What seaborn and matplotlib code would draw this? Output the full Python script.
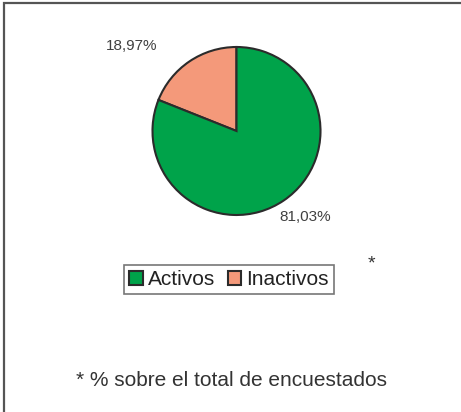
import matplotlib
matplotlib.use("Agg")
import matplotlib.pyplot as plt
import seaborn as sns
from matplotlib.patches import Rectangle

# datos (orden de dibujo: Inactivos primero para que empiece arriba)
categorias = ["Inactivos", "Activos"]
porcentajes = [18.97, 81.03]
etiquetas = ["18,97%", "81,03%"]
colores = ["#F4997A", "#00A34A"]

sns.set_theme(style="white")
plt.rcParams["font.family"] = ["Liberation Sans", "DejaVu Sans"]

W, H = 461, 412
fig = plt.figure(figsize=(W / 100, H / 100), dpi=100)

# marco exterior (solo se ven borde superior e izquierdo)
fig.add_artist(Rectangle((4 / W, -0.05), 1.1, 1 - 3 / H + 0.05,
                         transform=fig.transFigure, fill=False,
                         edgecolor="#555555", linewidth=1.6))

# ejes del pastel: centro (236.5, 131) px, radio 84 px
R = 84
cx, cy = 236.5, 131
ax = fig.add_axes([(cx - 150) / W, (H - cy - 120) / H, 300 / W, 240 / H])

wedges, _ = ax.pie(porcentajes, colors=colores, startangle=90,
                   counterclock=True, radius=1,
                   wedgeprops=dict(edgecolor="#2b2b2b", linewidth=1.5))
ax.set_aspect("auto")
ax.set_xlim(-150 / R, 150 / R)
ax.set_ylim(-120 / R, 120 / R)
ax.axis("off")

# etiquetas de porcentaje
pos_etq = [(-104.5 / R, 85 / R), (68.5 / R, -86 / R)]
for (x, y), txt in zip(pos_etq, etiquetas):
    ax.text(x, y, txt, ha="center", va="center", fontsize=11, color="#404040")

# leyenda en orden Activos, Inactivos
leg = fig.legend([wedges[1], wedges[0]], [categorias[1], categorias[0]],
                 loc="center", bbox_to_anchor=(229 / W, 1 - 279.5 / H),
                 ncol=2, fontsize=15, frameon=True, fancybox=False,
                 edgecolor="#555555", handlelength=0.65, handleheight=0.65,
                 handletextpad=0.25, columnspacing=0.6, borderpad=0.25,
                 borderaxespad=0)
leg.get_frame().set_linewidth(1.2)
for t in leg.get_texts():
    t.set_color("#222222")

fig.text(371 / W, 1 - 264 / H, "*", ha="center", va="center",
         fontsize=14, color="#333333")
fig.text(231 / W, 1 - 381 / H, "* % sobre el total de encuestados",
         ha="center", va="center", fontsize=15, color="#333333")

fig.savefig("out.png", dpi=100, facecolor="white")
